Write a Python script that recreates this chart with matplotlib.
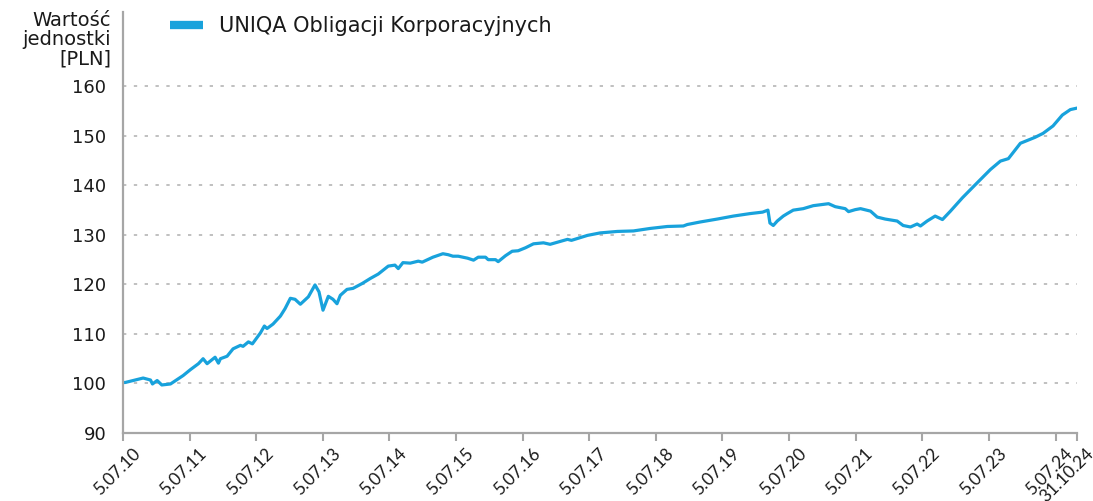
import datetime

import matplotlib
matplotlib.use("Agg")
from matplotlib import pyplot as plt
from matplotlib.lines import Line2D
import matplotlib.transforms as mtransforms

# unit value of the fund (x = decimal year)
years = [
    2010.51, 2010.54, 2010.81, 2010.92, 2010.95, 2011.02, 2011.09, 2011.22,
    2011.41, 2011.52, 2011.64, 2011.71, 2011.77, 2011.89, 2011.94, 2011.97,
    2012.07, 2012.16, 2012.27, 2012.31, 2012.39, 2012.45, 2012.57, 2012.63,
    2012.67, 2012.76, 2012.87, 2012.94, 2013.02, 2013.09, 2013.17, 2013.29,
    2013.39, 2013.45, 2013.51, 2013.59, 2013.66, 2013.72, 2013.77, 2013.87,
    2013.96, 2014.10, 2014.22, 2014.34, 2014.49, 2014.59, 2014.64, 2014.71,
    2014.82, 2014.94, 2015.00, 2015.16, 2015.31, 2015.39, 2015.46, 2015.54,
    2015.68, 2015.77, 2015.84, 2015.95, 2015.99, 2016.10, 2016.14, 2016.25,
    2016.35, 2016.44, 2016.55, 2016.67, 2016.82, 2016.92, 2017.18, 2017.24,
    2017.48, 2017.67, 2017.93, 2018.17, 2018.42, 2018.68, 2018.92, 2018.98,
    2019.17, 2019.43, 2019.67, 2019.92, 2020.11, 2020.19, 2020.22, 2020.27,
    2020.33, 2020.42, 2020.48, 2020.57, 2020.72, 2020.87, 2021.10, 2021.20,
    2021.35, 2021.40, 2021.50, 2021.58, 2021.73, 2021.83, 2021.95, 2022.13,
    2022.22, 2022.33, 2022.43, 2022.48, 2022.58, 2022.70, 2022.81, 2022.93,
    2023.11, 2023.33, 2023.53, 2023.68, 2023.80, 2023.98, 2024.20, 2024.32,
    2024.47, 2024.61, 2024.73, 2024.83,
]
values = [
    100.2, 100.2, 101.1, 100.7, 99.9, 100.6, 99.7, 99.9,
    101.6, 102.8, 104.0, 105.0, 104.0, 105.3, 104.1, 105.0,
    105.5, 107.0, 107.7, 107.5, 108.4, 108.0, 110.2, 111.6,
    111.1, 112.0, 113.6, 115.1, 117.2, 117.0, 116.0, 117.5,
    119.9, 118.5, 114.8, 117.6, 117.0, 116.1, 117.8, 119.0,
    119.2, 120.2, 121.2, 122.1, 123.7, 123.9, 123.2, 124.4,
    124.3, 124.7, 124.5, 125.5, 126.2, 126.0, 125.7, 125.7,
    125.3, 124.9, 125.5, 125.5, 125.0, 125.0, 124.6, 125.8,
    126.7, 126.8, 127.4, 128.2, 128.4, 128.1, 129.1, 128.9,
    129.9, 130.4, 130.7, 130.8, 131.3, 131.7, 131.8, 132.1,
    132.6, 133.2, 133.8, 134.3, 134.6, 135.0, 132.4, 131.9,
    132.8, 133.8, 134.3, 135.0, 135.3, 135.9, 136.3, 135.7,
    135.3, 134.7, 135.1, 135.3, 134.8, 133.6, 133.2, 132.8,
    131.9, 131.6, 132.2, 131.8, 132.8, 133.8, 133.1, 134.8,
    137.5, 140.5, 143.2, 144.9, 145.4, 148.5, 149.7, 150.5,
    152.0, 154.2, 155.3, 155.6,
]

tick_dates = ["2010-07-05", "2011-07-05", "2012-07-05", "2013-07-05",
              "2014-07-05", "2015-07-05", "2016-07-05", "2017-07-05",
              "2018-07-05", "2019-07-05", "2020-07-05", "2021-07-05",
              "2022-07-05", "2023-07-05", "2024-07-05", "2024-10-31"]
tick_labels = ["5.07.10", "5.07.11", "5.07.12", "5.07.13", "5.07.14",
               "5.07.15", "5.07.16", "5.07.17", "5.07.18", "5.07.19",
               "5.07.20", "5.07.21", "5.07.22", "5.07.23", "5.07.24",
               "31.10.24"]
y_ticks = [90, 100, 110, 120, 130, 140, 150, 160]

series_name = "UNIQA Obligacji Korporacyjnych"
line_color = "#18A2DC"
axis_color = "#A6A6A6"
text_color = "#1A1A1A"


def to_decimal_year(s):
    d = datetime.date.fromisoformat(s)
    start = datetime.date(d.year, 1, 1)
    length = (datetime.date(d.year + 1, 1, 1) - start).days
    return d.year + (d - start).days / length


plt.rcParams["font.family"] = ["DejaVu Sans"]
plt.rcParams["text.color"] = text_color

fig = plt.figure(figsize=(10.93, 5.01), dpi=100)
ax = fig.add_axes([0.1125, 0.1357, 0.8729, 0.8403])

ax.plot(years, values, color=line_color, lw=2.3, solid_joinstyle="round")

tick_pos = [to_decimal_year(s) for s in tick_dates]
ax.set_xlim(tick_pos[0], tick_pos[-1])
ax.set_ylim(90, 175)

ax.set_xticks(tick_pos)
ax.set_xticklabels(tick_labels, rotation=45, ha="right", va="top",
                   rotation_mode="anchor", fontsize=12.5, color=text_color,
                   family=["Lato", "DejaVu Sans"])
ax.set_yticks(y_ticks)
ax.set_yticklabels([str(v) for v in y_ticks], fontsize=13, color=text_color)

ax.tick_params(axis="x", length=6, width=1.5, color=axis_color, pad=3)
ax.tick_params(axis="y", length=0, pad=12)
for lbl in ax.get_xticklabels():
    lbl.set_transform(lbl.get_transform() +
                      mtransforms.ScaledTranslation(0.09, 0.0, fig.dpi_scale_trans))

for side in ["top", "right"]:
    ax.spines[side].set_visible(False)
for side in ["left", "bottom"]:
    ax.spines[side].set_color(axis_color)
    ax.spines[side].set_linewidth(1.6)

ax.grid(True, axis="y", color="#B5B5B5", linestyle=(0, (2, 4.5)), lw=1.2)
ax.set_axisbelow(True)

fig.text(0.1015, 0.978, "Wartość\njednostki\n[PLN]", ha="right", va="top",
         fontsize=14, linespacing=1.0)

handles = [Line2D([0], [0], color=line_color, lw=6, solid_capstyle="butt")]
ax.legend(handles=handles, labels=[series_name], loc="upper left",
          bbox_to_anchor=(0.138, 1.005), bbox_transform=fig.transFigure,
          frameon=False, fontsize=15, handlelength=1.6, handletextpad=0.75)

fig.savefig("out.png", dpi=100)
